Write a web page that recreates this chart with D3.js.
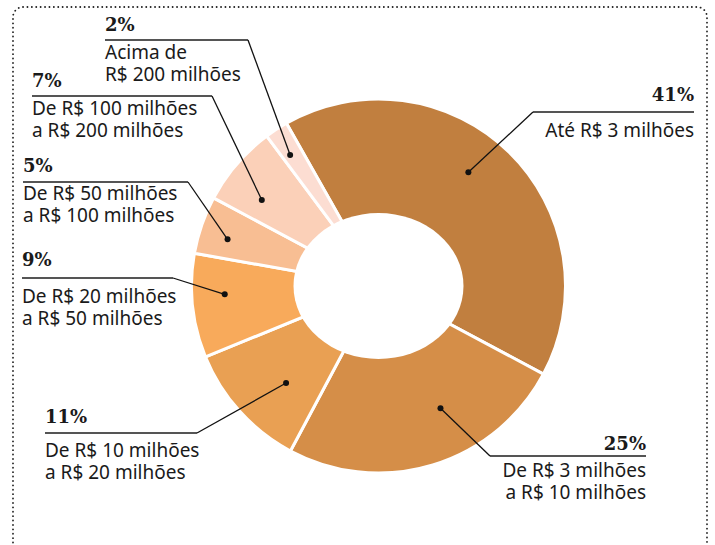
<!DOCTYPE html>
<html>
<head>
<meta charset="utf-8">
<script src="https://cdn.jsdelivr.net/npm/d3@7"></script>
<style>
  body { margin: 0; background: #fff; }
  .pct { font-family: "DejaVu Serif", serif; font-weight: bold; font-size: 18px; fill: #1a1a1a; }
  .lbl { font-family: "Noto Sans", sans-serif; font-size: 19px; fill: #1a1a1a; }
</style>
</head>
<body>
<script>
// faixas de receita e participação (%)
const shares = [41, 25, 11, 9, 5, 7, 2];
const pctLabels = ["41%", "25%", "11%", "9%", "5%", "7%", "2%"];
const categories = [
  ["Até R$ 3 milhões"],
  ["De R$ 3 milhões", "a R$ 10 milhões"],
  ["De R$ 10 milhões", "a R$ 20 milhões"],
  ["De R$ 20 milhões", "a R$ 50 milhões"],
  ["De R$ 50 milhões", "a R$ 100 milhões"],
  ["De R$ 100 milhões", "a R$ 200 milhões"],
  ["Acima de", "R$ 200 milhões"]
];
const colors = ["#c17f3f", "#d58e48", "#e9a053", "#f8aa5b", "#f8be93", "#fbd0b8", "#fcddd2"];

// posição dos rótulos (x, linha de base do %, cotovelo da linha, ponto)
const labelLayout = [
  { x: 694, y: 101, anchor: "end",   elbow: 533, lineY: 112, textDy: 25, dotR: 145, nudge: -6 },
  { x: 646, y: 450, anchor: "end",   elbow: 490, lineY: 456, textDy: 21, dotR: 137, nudge: -10 },
  { x: 45,  y: 423, anchor: "start", elbow: 197, lineY: 433, textDy: 24, dotR: 134, nudge: -4.3 },
  { x: 22,  y: 266, anchor: "start", elbow: 173, lineY: 278, textDy: 25, dotR: 154, nudge: 3 },
  { x: 23,  y: 172, anchor: "start", elbow: 188, lineY: 182, textDy: 18, dotR: 158, nudge: -1.9 },
  { x: 32,  y: 87,  anchor: "start", elbow: 212, lineY: 96,  textDy: 19, dotR: 145, nudge: -4.3 },
  { x: 105, y: 31,  anchor: "start", elbow: 248, lineY: 40,  textDy: 19, dotR: 158, nudge: -0.9 }
];

const W = 715, H = 545;
const cx = 378.5, cy = 286, R = 187;
const rad = Math.PI / 180;

const svg = d3.select("body").append("svg")
  .attr("width", W).attr("height", H);

// moldura pontilhada
svg.append("rect")
  .attr("x", 13).attr("y", 7)
  .attr("width", 694).attr("height", 560)
  .attr("rx", 10)
  .attr("fill", "none")
  .attr("stroke", "#222")
  .attr("stroke-width", 1.8)
  .attr("stroke-linecap", "round")
  .attr("stroke-dasharray", "0.1 4.3");

const pie = d3.pie().sort(null).value(d => d)
  .startAngle(-29.5 * rad).endAngle(330.5 * rad);
const arcs = pie(shares);
const arc = d3.arc().innerRadius(0).outerRadius(R);

const g = svg.append("g").attr("transform", `translate(${cx},${cy})`);

g.selectAll("path.slice").data(arcs)
  .enter().append("path")
  .attr("class", "slice")
  .attr("d", arc)
  .attr("fill", (d, i) => colors[i])
  .attr("stroke", "#fff")
  .attr("stroke-width", 3)
  .attr("stroke-linejoin", "round");

// furo central (levemente elíptico como no original)
g.append("ellipse")
  .attr("rx", 85).attr("ry", 73)
  .attr("fill", "#fff");

// linhas de chamada e rótulos
arcs.forEach(function(d, i) {
  const L = labelLayout[i];
  const a = (d.startAngle + d.endAngle) / 2 + L.nudge * rad;
  const dot = d3.arc().innerRadius(L.dotR).outerRadius(L.dotR)
    .centroid({ startAngle: a, endAngle: a });
  const dx = cx + dot[0], dy = cy + dot[1];

  svg.append("line")
    .attr("x1", L.x).attr("x2", L.elbow)
    .attr("y1", L.lineY).attr("y2", L.lineY)
    .attr("stroke", "#555").attr("stroke-width", 2);

  svg.append("line")
    .attr("x1", L.elbow).attr("y1", L.lineY)
    .attr("x2", dx).attr("y2", dy)
    .attr("stroke", "#111").attr("stroke-width", 1.3);

  svg.append("circle")
    .attr("cx", dx).attr("cy", dy).attr("r", 3)
    .attr("fill", "#111");

  svg.append("text")
    .attr("class", "pct")
    .attr("x", L.x).attr("y", L.y)
    .attr("text-anchor", L.anchor)
    .text(pctLabels[i]);

  categories[i].forEach(function(line, k) {
    svg.append("text")
      .attr("class", "lbl")
      .attr("x", L.x).attr("y", L.lineY + L.textDy + k * 22)
      .attr("text-anchor", L.anchor)
      .text(line);
  });
});
</script>
</body>
</html>
